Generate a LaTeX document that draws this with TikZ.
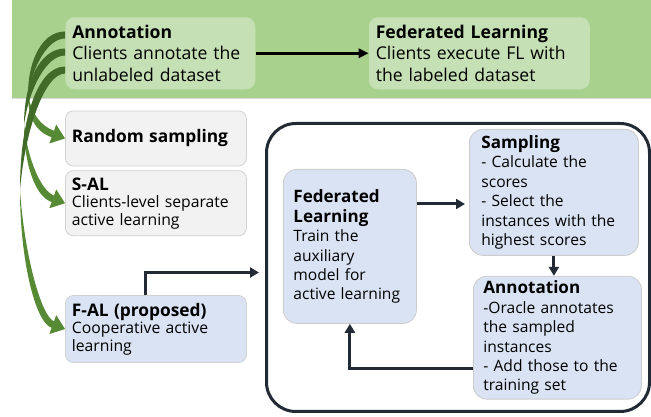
\documentclass[tikz,border=0pt]{standalone}
\usepackage{fontspec}
\setmainfont{Open Sans}
\usepackage{tikz}
\usetikzlibrary{positioning,arrows.meta,calc}
\pgfdeclarelayer{bg}
\pgfsetlayers{bg,main}

\definecolor{bandgreen}{HTML}{A9D18E}
\definecolor{boxgreen}{HTML}{C5E0B4}
\definecolor{boxgrey}{HTML}{F2F2F2}
\definecolor{boxblue}{HTML}{DAE3F3}
\definecolor{navy}{HTML}{222A35}
\definecolor{leafdark}{HTML}{426B29}
\definecolor{leaflight}{HTML}{578A35}

% curved green arrow: #1 tail, #2 turning point, #3 tip
\newcommand{\leafarrow}[3]{%
  \fill[leafdark] ($(#1)+(0,-3.5)$)
    .. controls ($(#1)!0.6!(#1 -| #2)+(0,-3.5)$) and ($(#2)!0.6!(#2 |- #1)$) .. (#2)
    .. controls ($(#2)!0.5!(#2 |- #1)+(5,0)$) and ($(#1)!0.45!(#1 -| #2)+(0,3.5)$) .. ($(#1)+(0,3.5)$) -- cycle;
  \fill[leaflight] (#2)
    .. controls ($(#2)!0.5!(#2 |- #3)$) and ($(#3)+(-30,-7)$) .. ($(#3)+(-13.4,-1.2)$)
    -- ($(#3)+(-15.6,5)$) -- (#3) -- ($(#3)+(-8.8,-13.9)$) -- ($(#3)+(-11,-7.7)$)
    .. controls ($(#3)+(-24,-12.5)$) and ($(#2)!0.45!(#2 |- #3)+(4,0)$) .. (#2) -- cycle;
}
\newcommand{\inhead}[1]{{\fontsize{12.8}{15}\selectfont\bfseries #1\par}}
\newcommand{\lefthead}[1]{{\fontsize{13}{15.5}\selectfont\bfseries #1\par}}
\hyphenpenalty=10000
\exhyphenpenalty=10000

\begin{document}
\begin{tikzpicture}[x=0.75pt, y=-0.75pt,
  topbox/.style={fill=boxgreen, rounded corners=7pt, align=left, inner xsep=5.25pt,
    minimum height=54pt, font={\fontsize{13.2}{16}\selectfont}},
  greybox/.style={fill=boxgrey, draw=black!18, line width=0.6pt, rounded corners=6pt, align=left,
    inner xsep=4.9pt, text width=126pt, font={\fontsize{11.8}{13.2}\selectfont}},
  bluebox/.style={fill=boxblue, draw=black!20, line width=0.6pt, rounded corners=10pt, align=left,
    font={\fontsize{11.7}{14.6}\selectfont}},
  darkarrow/.style={draw=navy, line width=2.25pt, -{Triangle[length=6.75pt,width=7.5pt]}},
]
  \useasboundingbox (0,0) rectangle (651,417);

  % top row
  \node[topbox, text width=132pt, anchor=north west] (ann) at (65,17)
    {\textbf{Annotation}\\Clients annotate the\\unlabeled dataset};
  \node[topbox, text width=155.25pt, right=84.75pt of ann] (topfl)
    {\textbf{Federated Learning}\\Clients execute FL with\\the labeled dataset};
  \draw[line width=2.25pt, -{Triangle[length=7.5pt,width=7pt]}] (ann) -- (topfl);

  % compared methods
  \node[greybox, minimum height=41.25pt, below=15.75pt of ann.south west, anchor=north west] (rs)
    {\lefthead{Random sampling}};
  \node[greybox, minimum height=48.75pt, below=3pt of rs] (sal)
    {\lefthead{S-AL}Clients-level separate\\active learning};
  \node[greybox, fill=boxblue, minimum height=50.25pt, below=44.25pt of sal] (fal)
    {\lefthead{F-AL (proposed)}Cooperative active\\learning};

  % active learning loop
  \node[draw=navy, line width=2.25pt, rounded corners=22pt, inner sep=0pt,
        minimum width=287.25pt, minimum height=216pt, anchor=north west] (loop) at (265,122) {};
  \node[bluebox, text width=84.75pt, inner xsep=7.5pt, minimum height=115.5pt,
        below right=35.25pt and 13.5pt of loop.north west, anchor=north west] (ifl)
    {\inhead{Federated\\Learning}Train the\\auxiliary\\model for\\active learning};
  \node[bluebox, text width=108.75pt, inner xsep=9pt, minimum height=94.5pt,
        below right=5.25pt and 153pt of loop.north west, anchor=north west] (samp)
    {\inhead{Sampling}- Calculate the\\scores\\- Select the\\instances with the\\highest scores};
  \node[bluebox, text width=111pt, inner xsep=7.5pt, minimum height=90.75pt,
        below right=15pt and 3pt of samp.south west, anchor=north west] (iann)
    {\inhead{Annotation}-Oracle annotates\\the sampled\\instances\\- Add those to the\\training set};

  \draw[darkarrow] ($(ifl.north east)+(0,35)$) -- ($(samp.west |- ifl.north east)+(-4,35)$);
  \draw[darkarrow] (samp.south) -- (samp.south |- iann.north);
  \draw[darkarrow] ($(iann.south west)!0.25!(iann.north west)$) -| (ifl.south);
  \draw[darkarrow] ($(fal.north)+(-10,0)$) |- ($(loop.west)+(-6,5)$);

  % green curved arrows
  \coordinate (tR) at ($(ann.north west)+(0,18)$);
  \coordinate (tS) at ($(ann.north west)+(0,35)$);
  \coordinate (tF) at ($(ann.north west)+(0,53)$);
  \coordinate (lR) at (28,95);
  \coordinate (lS) at (24,125);
  \coordinate (lF) at (20,190);
  \leafarrow{tR}{lR}{rs.west}
  \leafarrow{tS}{lS}{sal.west}
  \leafarrow{tF}{lF}{fal.west}

  \begin{pgfonlayer}{bg}
    \fill[bandgreen] (12,0) rectangle (651,98);
    \draw[black!15, line width=0.75pt] (12,98.5) -- (651,98.5);
  \end{pgfonlayer}
\end{tikzpicture}
\end{document}
